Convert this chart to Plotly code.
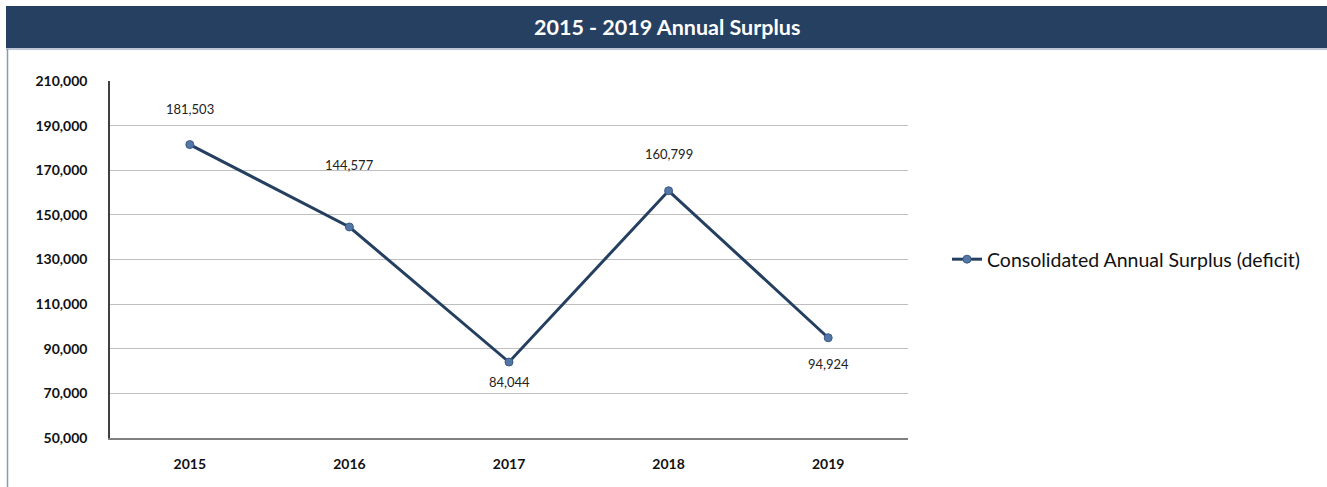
import plotly.graph_objects as go

# Annual surplus figures
years = ["2015", "2016", "2017", "2018", "2019"]
surplus = [181503, 144577, 84044, 160799, 94924]
# vertical offset (px) for each value label
label_shift = [36, 62, -20, 37, -26]
y_ticks = [50000, 70000, 90000, 110000, 130000, 150000, 170000, 190000, 210000]

NAVY = "#243f60"
FONT = "Lato, Open Sans, sans-serif"

W, H = 1327, 487
L, R, T, B = 110, 419, 81, 49
pw, ph = W - L - R, H - T - B


def px_x(x):
    return (x - L) / pw


def px_y(y):
    return (H - B - y) / ph


fig = go.Figure()
fig.add_trace(go.Scatter(
    x=years, y=surplus,
    mode="lines+markers",
    name="Consolidated Annual Surplus (deficit)",
    line=dict(color=NAVY, width=3),
    marker=dict(size=8, color="#5577a6", line=dict(color="#3a5a85", width=1)),
))

# value labels (category index used as x position)
for i, (v, s) in enumerate(zip(surplus, label_shift)):
    fig.add_annotation(
        x=i, y=v, xref="x", yref="y", text=f"{v:,}", showarrow=False,
        yshift=s, xanchor="center", yanchor="middle",
        font=dict(size=13, color="#222222", family=FONT),
    )

# header band
fig.add_shape(type="rect", xref="paper", yref="paper",
              x0=px_x(6), x1=px_x(1327), y0=px_y(48), y1=px_y(6),
              fillcolor="#264062", line=dict(width=0), layer="above")
fig.add_shape(type="line", xref="paper", yref="paper",
              x0=px_x(6), x1=px_x(1327), y0=px_y(49), y1=px_y(49),
              line=dict(color="#a6b3c6", width=1.5))
# left frame line
fig.add_shape(type="line", xref="paper", yref="paper",
              x0=px_x(7.5), x1=px_x(7.5), y0=px_y(49), y1=px_y(487),
              line=dict(color="#8a9ab0", width=1.5))

fig.add_annotation(
    xref="paper", yref="paper", x=px_x(667), y=px_y(27),
    xanchor="center", yanchor="middle",
    text="2015 - 2019 Annual Surplus", showarrow=False,
    font=dict(size=21.5, color="white", family=FONT, weight="bold"),
)

fig.update_layout(
    width=W, height=H,
    margin=dict(l=L, r=R, t=T, b=B),
    paper_bgcolor="white", plot_bgcolor="white",
    font=dict(family=FONT, color="#111111"),
    showlegend=True,
    legend=dict(x=px_x(947), y=0.5, xanchor="left", yanchor="middle",
                font=dict(size=19.5, family=FONT, color="#111111"),
                itemwidth=30, bgcolor="rgba(0,0,0,0)"),
    xaxis=dict(
        type="category", showgrid=False, showline=True,
        linecolor="#808080", linewidth=1.5, ticks="",
        tickfont=dict(size=14, family=FONT, weight="bold"),
        ticklabelstandoff=12, range=[-0.5, 4.5],
    ),
    yaxis=dict(
        range=[50000, 210000], tickvals=y_ticks, tickformat=",",
        showgrid=True, gridcolor="#bfbfbf", gridwidth=1,
        showline=True, linecolor="#404040", linewidth=1.5,
        ticks="", tickfont=dict(size=14, family=FONT, weight="bold"),
        ticklabelstandoff=18, zeroline=False,
    ),
)

fig.write_html("out.html")
